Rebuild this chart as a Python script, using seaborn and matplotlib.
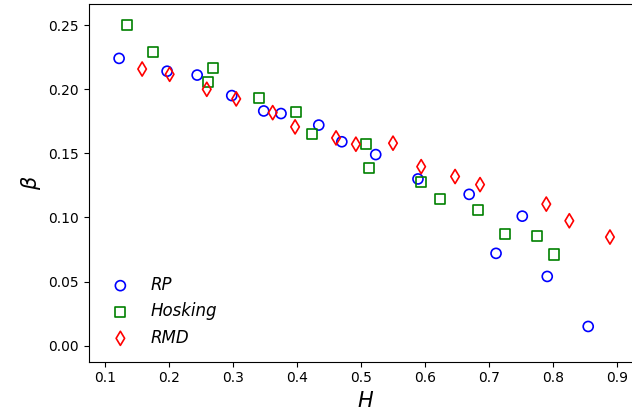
import matplotlib
matplotlib.use("Agg")
import matplotlib.pyplot as plt
import seaborn as sns
import pandas as pd

# RP method
rp_H = [0.122, 0.197, 0.244, 0.298, 0.348, 0.375, 0.434, 0.470, 0.523, 0.589, 0.669, 0.711, 0.752, 0.791, 0.855]
rp_beta = [0.224, 0.214, 0.211, 0.195, 0.183, 0.181, 0.172, 0.159, 0.149, 0.130, 0.118, 0.072, 0.101, 0.054, 0.015]

# Hosking method
hos_H = [0.135, 0.1745, 0.269, 0.261, 0.341, 0.398, 0.424, 0.508, 0.5125, 0.594, 0.623, 0.683, 0.725, 0.7755, 0.8016]
hos_beta = [0.250, 0.229, 0.2165, 0.2054, 0.1928, 0.1822, 0.1651, 0.1571, 0.1384, 0.1277, 0.1147, 0.1059, 0.0872, 0.0857, 0.0711]

# RMD method
rmd_H = [0.158, 0.201, 0.259, 0.305, 0.362, 0.397, 0.461, 0.492, 0.550, 0.594, 0.647, 0.686, 0.7895, 0.8255, 0.889]
rmd_beta = [0.2157, 0.2116, 0.1999, 0.1924, 0.1817, 0.1706, 0.1620, 0.1571, 0.1579, 0.1396, 0.1319, 0.1256, 0.1104, 0.0974, 0.0847]

x_ticks = [0.1, 0.2, 0.3, 0.4, 0.5, 0.6, 0.7, 0.8, 0.9]
y_ticks = [0.00, 0.05, 0.10, 0.15, 0.20, 0.25]

sns.set_style("ticks", {"axes.edgecolor": "black", "xtick.color": "black",
                        "ytick.color": "black", "text.color": "black",
                        "axes.labelcolor": "black"})
plt.rcParams["font.family"] = ["DejaVu Sans"]

fig = plt.figure(figsize=(6.32, 4.16), dpi=100)
W, Hpx = 632, 416
left, right, top, bottom = 88.7, 642.6, 4.0, 361.7
ax = fig.add_axes([left / W, 1 - bottom / Hpx, (right - left) / W, (bottom - top) / Hpx])

series = [
    ("RP", rp_H, rp_beta, "o", "blue"),
    ("Hosking", hos_H, hos_beta, "s", "green"),
    ("RMD", rmd_H, rmd_beta, "d", "red"),
]
for name, hx, by, mk, col in series:
    df = pd.DataFrame({"H": hx, "beta": by})
    sns.scatterplot(data=df, x="H", y="beta", marker=mk, s=52,
                    facecolors="none", edgecolors=col, linewidth=1.2,
                    label=name, ax=ax, clip_on=True)

ax.set_xlim(0.0745, 0.94)
ax.set_ylim(-0.01247, 0.2664)
ax.set_xticks(x_ticks)
ax.set_yticks(y_ticks)
ax.set_xticklabels([f"{v:.1f}" for v in x_ticks])
ax.set_yticklabels([f"{v:.2f}" for v in y_ticks])
ax.tick_params(labelsize=10, length=3.5, width=0.8)
ax.set_xlabel("$H$", fontsize=15)
ax.set_ylabel("$\\beta$", fontsize=15)
for sp in ax.spines.values():
    sp.set_linewidth(0.8)

leg = ax.legend(loc="lower left", frameon=False, fontsize=12)
for t in leg.get_texts():
    t.set_fontstyle("italic")

fig.savefig("out.png", dpi=100)
